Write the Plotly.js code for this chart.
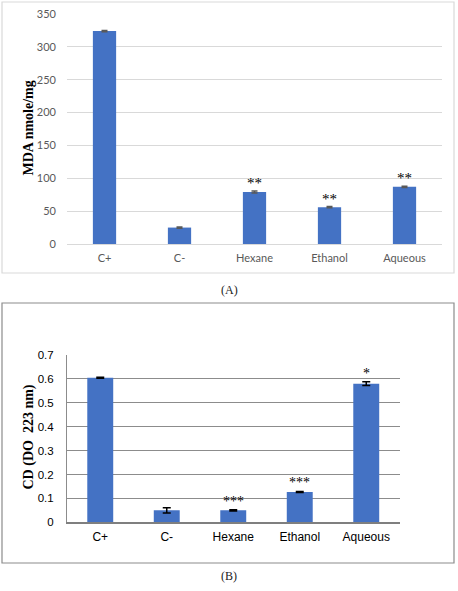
<!DOCTYPE html>
<html>
<head>
<meta charset="utf-8">
<script src="https://cdn.plot.ly/plotly-3.0.1.min.js"></script>
<style>html,body{margin:0;padding:0;background:#fff;}#chart{width:458px;height:591px;}</style>
</head>
<body>
<div id="chart"></div>
<script>
// Panel A data
const categoriesA = ["C+", "C-", "Hexane", "Ethanol", "Aqueous"];
const mdaValues = [324, 25, 79, 56, 87];
const mdaErrors = [1, 1, 1.5, 1, 1];
const mdaStars = ["", "", "**", "**", "**"];
const yTicksA = [0, 50, 100, 150, 200, 250, 300, 350];

// Panel B data
const categoriesB = ["C+", "C-", "Hexane", "Ethanol", "Aqueous"];
const cdValues = [0.605, 0.05, 0.05, 0.127, 0.58];
const cdErrors = [0.002, 0.011, 0.003, 0.002, 0.008];
const cdStars = ["", "", "***", "***", "*"];
const yTicksB = [0, 0.1, 0.2, 0.3, 0.4, 0.5, 0.6, 0.7];

const W = 458, H = 591;
const px = v => v / W;
const py = v => 1 - v / H;

const barColor = "#4472c4";

const traces = [
  {
    type: "bar", x: categoriesA, y: mdaValues, xaxis: "x", yaxis: "y",
    marker: {color: barColor}, width: 0.31,
    error_y: {type: "data", array: mdaErrors, visible: true, color: "#595959", thickness: 1.5, width: 3},
    hoverinfo: "none"
  },
  {
    type: "bar", x: categoriesB, y: cdValues, xaxis: "x2", yaxis: "y2",
    marker: {color: barColor}, width: 0.39,
    error_y: {type: "data", array: cdErrors, visible: true, color: "#000000", thickness: 1.5, width: 4},
    hoverinfo: "none"
  }
];

const annotations = [];
categoriesA.forEach((c, i) => {
  if (mdaStars[i]) annotations.push({
    xref: "x", yref: "y", x: c, y: mdaValues[i] + mdaErrors[i], text: mdaStars[i],
    showarrow: false, yanchor: "bottom", yshift: -2,
    font: {family: "Liberation Serif", size: 15, color: "#000"}
  });
});
categoriesB.forEach((c, i) => {
  if (cdStars[i]) annotations.push({
    xref: "x2", yref: "y2", x: c, y: cdValues[i] + cdErrors[i], text: cdStars[i],
    showarrow: false, yanchor: "bottom", yshift: -1,
    font: {family: "Liberation Serif", size: 14, color: "#000"}
  });
});
annotations.push(
  {xref: "paper", yref: "paper", x: px(28), y: py(128.5), text: "<b>MDA nmole/mg</b>", textangle: -90,
   showarrow: false, xanchor: "center", yanchor: "middle",
   font: {family: "Liberation Serif", size: 14, color: "#000"}},
  {xref: "paper", yref: "paper", x: px(28), y: py(437.5), text: "<b>CD (DO  223 nm)</b>", textangle: -90,
   showarrow: false, xanchor: "center", yanchor: "middle",
   font: {family: "Liberation Serif", size: 14, color: "#000"}},
  {xref: "paper", yref: "paper", x: px(229), y: py(290), text: "(A)",
   showarrow: false, xanchor: "center", yanchor: "middle",
   font: {family: "Liberation Serif", size: 12, color: "#222"}},
  {xref: "paper", yref: "paper", x: px(229), y: py(576), text: "(B)",
   showarrow: false, xanchor: "center", yanchor: "middle",
   font: {family: "Liberation Serif", size: 12, color: "#222"}}
);

const layout = {
  width: W, height: H,
  margin: {l: 0, r: 0, t: 0, b: 0},
  paper_bgcolor: "#fff", plot_bgcolor: "rgba(0,0,0,0)",
  showlegend: false,
  xaxis: {
    domain: [px(67), px(442)], anchor: "y",
    showgrid: false, showline: true, linecolor: "#d9d9d9", linewidth: 1, ticks: "",
    tickfont: {family: "Lato", size: 11, color: "#595959"},
    ticklabelstandoff: 4, fixedrange: true
  },
  yaxis: {
    domain: [py(244), py(14)], anchor: "x", range: [0, 350],
    tickvals: yTicksA, showgrid: true, gridcolor: "#d9d9d9", gridwidth: 1,
    zeroline: false, showline: false, ticks: "",
    tickfont: {family: "Lato", size: 11, color: "#595959"},
    ticklabelstandoff: 10, fixedrange: true
  },
  xaxis2: {
    domain: [px(67), px(399.5)], anchor: "y2",
    showgrid: false, showline: true, linecolor: "#7f7f7f", linewidth: 1.5, ticks: "",
    tickfont: {family: "Liberation Sans", size: 12, color: "#000"},
    ticklabelstandoff: 3, fixedrange: true
  },
  yaxis2: {
    domain: [py(522.3), py(355)], anchor: "x2", range: [0, 0.7],
    tickvals: yTicksB, ticktext: yTicksB.map(v => String(v)),
    showgrid: true, gridcolor: "#8c8c8c", gridwidth: 1.2,
    zeroline: false, showline: true, linecolor: "#8c8c8c", linewidth: 1, ticks: "",
    tickfont: {family: "Liberation Sans", size: 11.5, color: "#000"},
    ticklabelstandoff: 10, fixedrange: true
  },
  shapes: [
    {type: "rect", xref: "paper", yref: "paper", x0: px(2), x1: px(454), y0: py(273), y1: py(2),
     line: {color: "#d9d9d9", width: 1.2}, fillcolor: "rgba(0,0,0,0)", layer: "below"},
    {type: "rect", xref: "paper", yref: "paper", x0: px(2), x1: px(454), y0: py(563), y1: py(303),
     line: {color: "#8c8c8c", width: 1.2}, fillcolor: "rgba(0,0,0,0)", layer: "below"}
  ],
  annotations: annotations
};

Plotly.newPlot("chart", traces, layout, {staticPlot: true, displayModeBar: false});
</script>
</body>
</html>
